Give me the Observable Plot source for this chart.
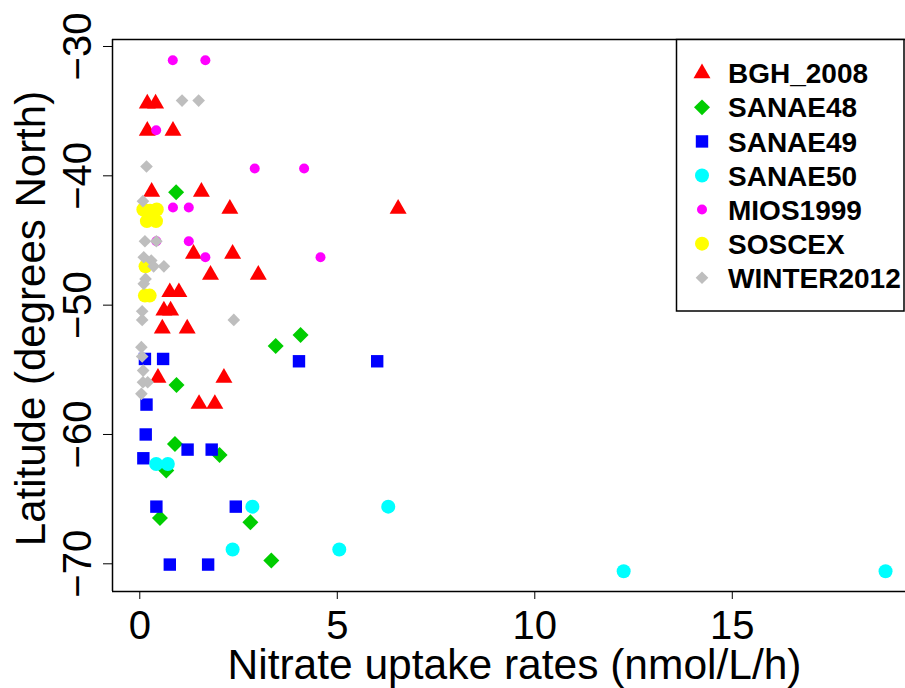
<!DOCTYPE html>
<html><head><meta charset="utf-8">
<script src="https://cdn.jsdelivr.net/npm/d3@7"></script>
<script src="https://cdn.jsdelivr.net/npm/@observablehq/plot@0.6"></script>
<style>body{margin:0;background:#fff;} #chart svg{display:block;}</style>
</head><body><div id="chart"></div>
<script>
// ---- data ----
const seriesNames = ["BGH_2008","SANAE48","SANAE49","SANAE50","MIOS1999","SOSCEX","WINTER2012"];

const bgh2008X = [0.19,0.40,0.19,0.84,0.30,1.56,2.28,6.54,1.36,2.35,1.79,3.00,0.76,0.99,0.61,0.78,0.57,1.20,0.46,2.13,1.50,1.90];
const bgh2008Y = [-34.41,-34.41,-36.52,-36.52,-41.24,-41.24,-42.55,-42.55,-46.03,-46.03,-47.66,-47.66,-49.0,-49.0,-50.42,-50.42,-51.81,-51.81,-55.62,-55.62,-57.64,-57.64];

const sanae48X = [0.92,4.07,3.44,0.93,0.89,2.02,0.67,0.51,2.80,3.33];
const sanae48Y = [-41.27,-52.3,-53.15,-56.17,-60.73,-61.58,-62.79,-66.45,-66.79,-69.75];

const sanae49X = [0.13,0.59,4.03,6.01,0.17,0.15,0.09,1.21,1.82,0.42,2.43,0.76,1.73];
const sanae49Y = [-54.16,-54.16,-54.34,-54.34,-57.69,-60.0,-61.84,-61.17,-61.17,-65.58,-65.58,-70.06,-70.06];

const sanae50X = [0.415,0.71,2.85,6.29,2.35,5.05,12.25,18.88];
const sanae50Y = [-62.28,-62.28,-65.58,-65.58,-68.9,-68.9,-70.58,-70.58];

const mios1999X = [0.835,1.66,0.415,2.91,4.16,0.84,1.24,1.24,0.42,1.66,4.575];
const mios1999Y = [-31.06,-31.06,-36.47,-39.43,-39.43,-42.45,-42.45,-45.06,-45.06,-46.3,-46.3];

const soscexX = [0.09,0.43,0.26,0.18,0.41,0.145,0.13,0.25];
const soscexY = [-42.6,-42.6,-42.7,-43.5,-43.5,-47.0,-49.26,-49.26];

const winter2012X = [1.07,1.49,0.17,0.08,0.13,0.42,0.10,0.29,0.35,0.61,0.145,0.10,0.06,0.06,2.38,0.04,0.06,0.085,0.08,0.20,0.04];
const winter2012Y = [-34.18,-34.18,-39.28,-41.96,-45.06,-45.06,-46.3,-46.55,-47.0,-47.0,-47.97,-48.35,-50.47,-51.14,-51.14,-53.25,-53.97,-55.06,-55.96,-55.96,-56.86];

const xTicks = [0,5,10,15];
const yTicks = [-30,-40,-50,-60,-70];
const xLabel = "Nitrate uptake rates (nmol/L/h)";
const yLabel = "Latitude (degrees North)";

// ---- styles ----
const seriesX = [bgh2008X,sanae48X,sanae49X,sanae50X,mios1999X,soscexX,winter2012X];
const seriesY = [bgh2008Y,sanae48Y,sanae49Y,sanae50Y,mios1999Y,soscexY,winter2012Y];
const styles = {
  BGH_2008:   {color:"#ff0000", symbol:"triangle", r:6.3},
  SANAE48:    {color:"#00cd00", symbol:"diamond2", r:7.2},
  SANAE49:    {color:"#0000ff", symbol:"square",   r:7.0},
  SANAE50:    {color:"#00ffff", symbol:"circle",   r:7.0},
  MIOS1999:   {color:"#ff00ff", symbol:"circle",   r:5.0},
  SOSCEX:     {color:"#ffff00", symbol:"circle",   r:7.0},
  WINTER2012: {color:"#bebebe", symbol:"diamond2", r:5.7}
};
const d3sym = {triangle: d3.symbolTriangle, diamond2: d3.symbolDiamond2, square: d3.symbolSquare, circle: d3.symbolCircle};

const rows = seriesNames.flatMap((s, i) => seriesX[i].map((x, j) => ({series: s, x, y: seriesY[i][j]})));

const xDomain = [-0.691, 19.385];
const yDomain = [-72.142, -29.459];
const fmt = v => (v < 0 ? "\u2212" + Math.abs(v) : String(v));
const font = "'Liberation Sans', Arial, Helvetica, sans-serif";

const marks = [];
for (const s of seriesNames) {
  const st = styles[s];
  marks.push(Plot.dot(rows.filter(d => d.series === s), {
    x: "x", y: "y", symbol: st.symbol, fill: st.color, r: st.r, stroke: "none"
  }));
}
marks.push(
  Plot.ruleX([xDomain[0]], {stroke: "black", strokeWidth: 1.5}),
  Plot.ruleY([yDomain[0]], {stroke: "black", strokeWidth: 1.5}),
  Plot.ruleY([yDomain[1]], {stroke: "black", strokeWidth: 1.5}),
  Plot.axisX({ticks: xTicks, tickSize: 8, tickPadding: 11, fontSize: 40, label: null, tickFormat: fmt, stroke: "black"}),
  Plot.axisY({ticks: yTicks, tickSize: 9, tickFormat: () => "", label: null, stroke: "black"}),
  Plot.text(yTicks, {y: d => d, frameAnchor: "left", text: fmt, rotate: -90, dx: -34.8,
    fontSize: 40, textAnchor: "middle", lineAnchor: "middle", fill: "black"}),
  Plot.text([xLabel], {frameAnchor: "bottom", dx: 5.5, dy: 73.6, fontSize: 42.5,
    textAnchor: "middle", lineAnchor: "middle", fill: "black"}),
  Plot.text([yLabel], {frameAnchor: "left", rotate: -90, dx: -81.4, dy: 3, fontSize: 42,
    textAnchor: "middle", lineAnchor: "middle", fill: "black"})
);

const plot = Plot.plot({
  width: 905, height: 688,
  marginLeft: 112, marginRight: 0, marginTop: 39, marginBottom: 97,
  x: {domain: xDomain},
  y: {domain: yDomain},
  style: {fontFamily: font, background: "white", color: "black"},
  marks
});

// ---- legend (top right, inside plot) ----
const svg = d3.select(plot);
const lg = svg.append("g").attr("font-family", font).attr("text-anchor", "start");
lg.append("rect").attr("x", 676.5).attr("y", 39.5).attr("width", 227.5).attr("height", 271.5)
  .attr("fill", "white").attr("stroke", "black").attr("stroke-width", 1.5);
seriesNames.forEach((s, i) => {
  const st = styles[s];
  const cy = 73.3 + i * 34.07;
  lg.append("path")
    .attr("d", d3.symbol(d3sym[st.symbol], Math.PI * st.r * st.r)())
    .attr("transform", `translate(702,${cy})`)
    .attr("fill", st.color);
  lg.append("text").attr("x", 728).attr("y", cy).attr("dy", "0.36em")
    .attr("text-anchor", "start")
    .attr("font-size", 28).attr("font-weight", "bold").attr("fill", "black").text(s);
});

document.getElementById("chart").appendChild(plot);
</script>
</body></html>
